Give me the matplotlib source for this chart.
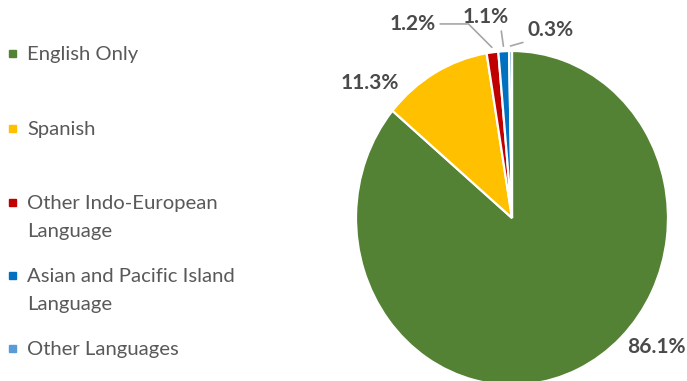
import matplotlib.pyplot as plt
import numpy as np
from matplotlib.patches import Rectangle

# home language shares, in percent
categories = ["English Only", "Spanish", "Other Indo-European\nLanguage",
              "Asian and Pacific Island\nLanguage", "Other Languages"]
shares = [86.1, 11.3, 1.2, 1.1, 0.3]
colors = ["#548235", "#FFC000", "#C00000", "#0070C0", "#5B9BD5"]

plt.rcParams['font.family'] = ['Lato', 'DejaVu Sans']

fig = plt.figure(figsize=(6.87, 3.81), dpi=100)

# legend drawn by hand on a pixel-scaled overlay
lax = fig.add_axes([0, 0, 1, 1])
lax.set_xlim(0, 687)
lax.set_ylim(381, 0)
lax.axis('off')
legend_y = [53, 128, 202, 275, 348]
for name, col, y in zip(categories, colors, legend_y):
    lax.add_patch(Rectangle((9, y - 3.5), 7, 7, color=col))
    lax.text(27, y - 7, name, fontsize=14.6, color="#595959", va='top',
             ha='left', linespacing=1.8)

# pie, stretched a little taller than wide
ax = fig.add_axes([356 / 687, -4 / 381, 312 / 687, 334 / 381])
wedges, _ = ax.pie(shares, colors=colors, startangle=90, counterclock=False,
                   wedgeprops=dict(edgecolor='white', linewidth=1.6))
ax.set_aspect('auto')
ax.set_xlim(-1, 1)
ax.set_ylim(-1, 1)
ax.axis('off')

label_pos = [(0.923, -0.772), (-0.910, 0.808), (-0.635, 1.162),
             (-0.167, 1.204), (0.244, 1.126)]
leaders = [None, None,
           dict(relpos=(1.0, 0.5), connectionstyle="angle,angleA=0,angleB=135,rad=0"),
           dict(relpos=(0.82, 0.0), connectionstyle="arc3"),
           dict(relpos=(0.1, 0.0), connectionstyle="arc3")]
for w, v, pos, lead in zip(wedges, shares, label_pos, leaders):
    mid = np.deg2rad((w.theta1 + w.theta2) / 2)
    tip = (1.03 * np.cos(mid), 1.03 * np.sin(mid))
    kw = dict(fontsize=15, fontweight='bold', color="#4a4a4a",
              ha='center', va='center', annotation_clip=False)
    if lead is None:
        ax.annotate(f"{v:.1f}%", xy=pos, **kw)
    else:
        ax.annotate(f"{v:.1f}%", xy=tip, xytext=pos,
                    arrowprops=dict(arrowstyle='-', color="#A6A6A6", lw=1.2,
                                    shrinkA=1, shrinkB=0, **lead), **kw)

fig.savefig("out.png", dpi=100)
